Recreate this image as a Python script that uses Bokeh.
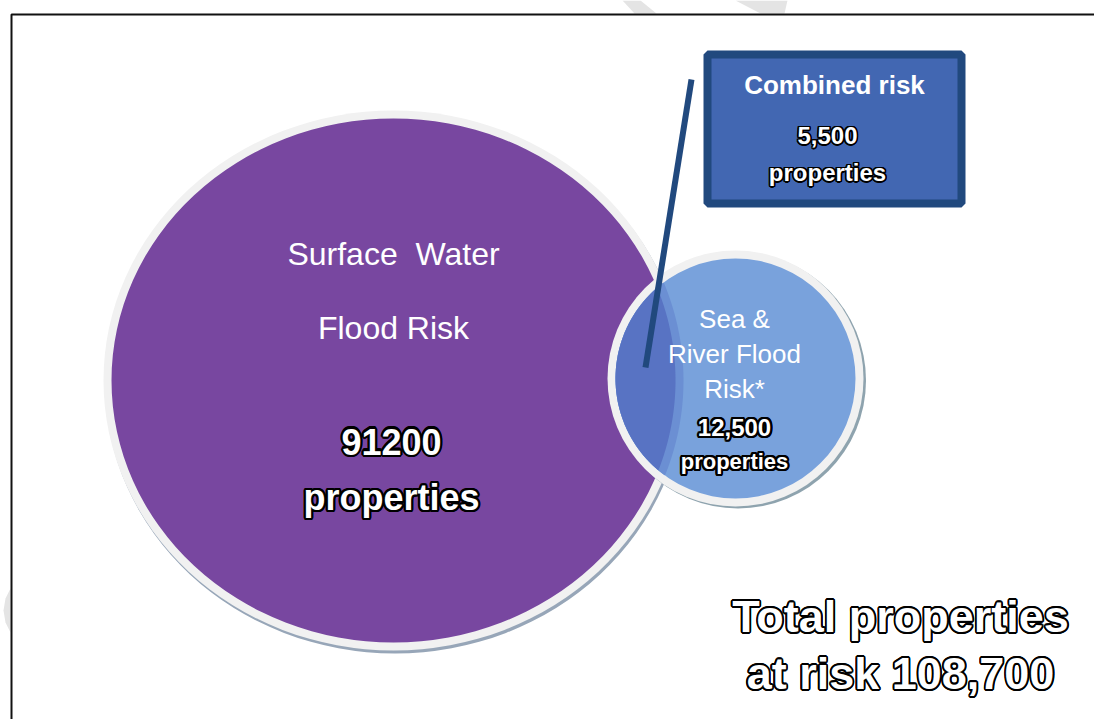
import numpy as np
from bokeh.plotting import figure
from bokeh.models import Range1d
from bokeh.core.properties import value
from bokeh.embed import file_html
from bokeh.resources import INLINE

# ---------------- data ----------------
set_names = ["Surface Water Flood Risk", "Sea & River Flood Risk*"]
set_counts = [91200, 12500]
combined_count = 5500
total_count = 108700

surface_title = ["Surface \u00a0Water", "Flood Risk"]
sea_title = ["Sea &", "River Flood", "Risk*"]
combined_title = "Combined risk"
unit_word = "properties"

# ---------------- layout (pixel space) ----------------
W, H = 1094, 719
FONT = "Liberation Sans"

big = dict(cx=393, cy=380, a=282, b=262)      # purple ellipse (fill)
small = dict(cx=735, cy=378, r=120)           # blue circle (fill)
ring = 8                                      # light border ring width

PURPLE = "#7847a0"
BLUE = "#79a2dc"
OVERLAP = "#5873c3"
BAND = "#6b8fd3"
RING = "#f1f1f1"
SHADOW = "#97a6b8"
NAVY = "#21497e"
BOXFILL = "#4267b2"

p = figure(width=W, height=H, x_range=Range1d(0, W), y_range=Range1d(H, 0),
           output_backend="svg", toolbar_location=None, min_border=0)
p.axis.visible = False
p.grid.visible = False
p.outline_line_color = None
p.background_fill_color = "white"
p.border_fill_color = "white"

# faint watermark fragments outside the frame
decor_x = [[622, 640, 656, 634], [735, 787, 784, 760], [10, 5, 3, 5, 10]]
decor_y = [[0, 0, 13, 13], [0, 0, 13, 13], [588, 598, 610, 622, 632]]
p.patches(decor_x, decor_y, fill_color="#e4e4e4", line_color=None)

# frame
p.line([11, 11, W], [H, 14, 14], line_color="#111111", line_width=2)

# big ellipse: shadow, ring, fill
p.ellipse(x=[big["cx"] + 1.5], y=[big["cy"] + 3], width=[2 * (big["a"] + ring)],
          height=[2 * (big["b"] + ring)], fill_color=SHADOW, line_color=None)
p.ellipse(x=[big["cx"]], y=[big["cy"]], width=[2 * (big["a"] + ring)],
          height=[2 * (big["b"] + ring)], fill_color=RING, line_color=None)
p.ellipse(x=[big["cx"]], y=[big["cy"]], width=[2 * big["a"]],
          height=[2 * big["b"]], fill_color=PURPLE, line_color=None)

# small circle: shadow, ring, fill
p.ellipse(x=[small["cx"] + 2.5], y=[small["cy"] + 2], width=[2 * (small["r"] + ring)],
          height=[2 * (small["r"] + ring)], fill_color="#8ea3ae", line_color=None)
p.ellipse(x=[small["cx"]], y=[small["cy"]], width=[2 * (small["r"] + ring)],
          height=[2 * (small["r"] + ring)], fill_color=RING, line_color=None)
p.ellipse(x=[small["cx"]], y=[small["cy"]], width=[2 * small["r"]],
          height=[2 * small["r"]], fill_color=BLUE, line_color=None)


def intersect(cx1, cy1, a1, b1, cx2, cy2, a2, b2, n=1440):
    t = np.linspace(0, 2 * np.pi, n, endpoint=False)
    x1, y1 = cx1 + a1 * np.cos(t), cy1 + b1 * np.sin(t)
    x2, y2 = cx2 + a2 * np.cos(t), cy2 + b2 * np.sin(t)
    in2 = ((x1 - cx2) / a2) ** 2 + ((y1 - cy2) / b2) ** 2 <= 1
    in1 = ((x2 - cx1) / a1) ** 2 + ((y2 - cy1) / b1) ** 2 <= 1
    xs = np.concatenate([x1[in2], x2[in1]])
    ys = np.concatenate([y1[in2], y2[in1]])
    mx, my = xs.mean(), ys.mean()
    order = np.argsort(np.arctan2(ys - my, xs - mx))
    return xs[order], ys[order]

bx, by = intersect(small["cx"], small["cy"], small["r"], small["r"],
                   big["cx"], big["cy"], big["a"] + ring, big["b"] + ring)
p.patch(bx, by, fill_color=BAND, line_color=None)
ox, oy = intersect(small["cx"], small["cy"], small["r"], small["r"],
                   big["cx"], big["cy"], big["a"], big["b"])
p.patch(ox, oy, fill_color=OVERLAP, line_color=None)

# callout line and box
p.line([691, 645], [79, 367], line_color=NAVY, line_width=6)
p.quad(left=[707], right=[961], top=[54], bottom=[203],
       fill_color=BOXFILL, line_color=NAVY, line_width=8)


def txt(x, y, s, size, bold=False, outline=0.0, color="white"):
    kw = dict(text_font=value(FONT), text_font_size=f"{size}px",
              text_font_style="bold" if bold else "normal",
              text_align="center", text_baseline="middle")
    if outline:
        ang = np.linspace(0, 2 * np.pi, 16, endpoint=False)
        dx = (outline * np.cos(ang)).round(2).tolist()
        dy = (outline * np.sin(ang)).round(2).tolist()
        n = len(dx)
        p.text(x=[x] * n, y=[y] * n, text=[s] * n, x_offset=dx, y_offset=dy,
               text_color="black", **kw)
    p.text(x=[x], y=[y], text=[s], text_color=color, **kw)

# surface water labels
txt(393, 253, surface_title[0], 32)
txt(393, 327, surface_title[1], 32)
txt(391, 441, f"{set_counts[0]}", 36, bold=True, outline=2.2)
txt(391, 497, unit_word, 36, bold=True, outline=2.2)

# sea & river labels
txt(734, 318, sea_title[0], 26)
txt(734, 353, sea_title[1], 26)
txt(734, 388, sea_title[2], 26)
txt(734, 427, f"{set_counts[1]:,}", 24, bold=True, outline=2.2)
txt(734, 461, unit_word, 22, bold=True, outline=2.2)

# combined box
txt(834, 84, combined_title, 26, bold=True)
txt(827, 135, f"{combined_count:,}", 24, bold=True, outline=1.5)
txt(827, 172, unit_word, 24, bold=True, outline=1.5)

# total
txt(900, 616, "Total properties", 45, bold=True, outline=1.8)
txt(900, 673, f"at risk {total_count:,}", 45, bold=True, outline=1.8)

open("out.html", "w").write(file_html(p, INLINE))
